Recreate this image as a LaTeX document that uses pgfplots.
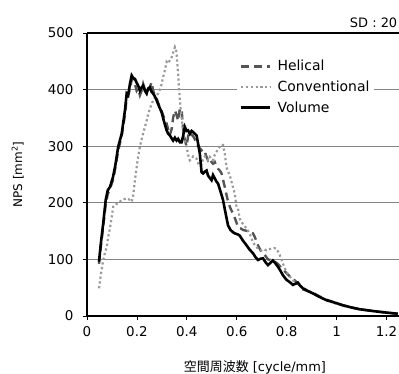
\documentclass[border=0pt]{standalone}
\usepackage{pgfplots}
\pgfplotsset{compat=1.18}
\usepackage{fontspec}
\setmainfont{DejaVu Sans}
\newfontfamily\cjk{Noto Sans CJK JP}
\definecolor{gridgray}{HTML}{858585}
\definecolor{helgray}{HTML}{555555}
\definecolor{convgray}{HTML}{9A9A9A}
\begin{document}
\begin{tikzpicture}
\path[use as bounding box] (-87bp,-58bp) rectangle (312bp,316bp);
\begin{axis}[
  scale only axis, width=312bp, height=283bp,
  xmin=0, xmax=1.25, ymin=0, ymax=500,
  axis lines=left, axis line style={-, black, line width=1.1bp},
  xtick={0,0.2,0.4,0.6,0.8,1,1.2},
  xticklabels={0,0.2,0.4,0.6,0.8,1,1.2},
  ytick={0,100,200,300,400},
  yticklabels={0,100,200,300,400},
  extra y ticks={500}, extra y tick labels={500},
  extra y tick style={grid style={black, line width=1.1bp}},
  ymajorgrids, grid style={gridgray, line width=1.1bp},
  tick align=outside, major tick length=4bp,
  tick style={black, line width=0.8bp},
  ticklabel style={font=\fontsize{13.5}{15}\selectfont},
  xticklabel style={yshift=-3bp},
  yticklabel style={xshift=-6bp},
  ylabel={NPS [mm$^{\mathrm{2}}$]},
  ylabel style={at={(axis description cs:-0.222,0.5)}, anchor=center, font=\fontsize{12}{14}\selectfont},
  xlabel={{\cjk 空間周波数} [cycle/mm]},
  xlabel style={at={(axis description cs:0.5,0)}, anchor=center, yshift=-51bp, xshift=12bp, font=\fontsize{13}{15}\selectfont},
  legend style={at={(axis description cs:0.48,0.918)}, anchor=north west, draw=none, fill=white,
    font=\fontsize{14}{16}\selectfont, row sep=4.5bp, inner xsep=3bp, inner ysep=2bp,
    /tikz/every odd column/.append style={column sep=4bp}},
  legend cell align=left,
  legend image code/.code={\draw[#1] (0bp,0bp) -- (29bp,0bp);},
  clip mode=individual,
]
\addplot[helgray, line width=2.4bp, dash pattern=on 8bp off 5bp] coordinates {
(0.048,92)(0.056,125)(0.065,158)(0.075,198)(0.083,215)(0.092,225)(0.104,240)(0.113,260)
(0.125,292)(0.139,318)(0.152,355)(0.159,385)(0.165,392)(0.172,400)(0.179,418)(0.186,416)
(0.192,410)(0.199,398)(0.205,402)(0.212,390)(0.219,398)(0.225,410)(0.232,400)(0.239,395)
(0.245,398)(0.252,405)(0.259,413)(0.265,398)(0.272,390)(0.279,384)(0.289,372)(0.299,362)
(0.309,350)(0.319,340)(0.325,330)(0.332,320)(0.339,330)(0.345,350)(0.352,363)(0.359,355)
(0.365,345)(0.372,366)(0.379,366)(0.385,330)(0.392,310)(0.399,300)(0.405,318)(0.412,325)
(0.419,320)(0.425,318)(0.432,312)(0.439,305)(0.445,300)(0.452,296)(0.459,293)(0.465,288)
(0.472,290)(0.479,281)(0.485,275)(0.492,278)(0.499,272)(0.505,269)(0.512,272)(0.518,265)
(0.525,260)(0.532,257)(0.539,252)(0.552,228)(0.565,202)(0.575,190)(0.585,181)(0.595,170)
(0.605,157)(0.615,155)(0.625,152)(0.645,150)(0.665,146)(0.672,140)(0.685,125)(0.699,113)
(0.712,108)(0.725,100)(0.745,98)(0.765,92)(0.785,82)(0.799,76)(0.812,70)(0.825,65)
(0.832,63)(0.845,58)(0.865,47)(0.885,44)(0.905,41)(0.93,35)(0.959,29)(0.99,24)
(1.025,19)(1.06,15)(1.092,12)(1.125,10)(1.159,8)(1.2,6)(1.245,4)
};
\addlegendentry{Helical}
\addplot[convgray, line width=2.2bp, dash pattern=on 2.2bp off 2.6bp] coordinates {
(0.048,49)(0.056,75)(0.065,99)(0.072,112)(0.079,122)(0.085,140)(0.092,155)(0.099,175)
(0.105,193)(0.112,197)(0.125,199)(0.139,205)(0.159,208)(0.172,205)(0.179,202)(0.185,213)
(0.192,240)(0.199,263)(0.205,282)(0.212,299)(0.222,318)(0.232,334)(0.239,345)(0.245,357)
(0.255,370)(0.265,381)(0.275,388)(0.285,393)(0.292,400)(0.299,410)(0.305,422)(0.312,434)
(0.319,449)(0.325,446)(0.332,452)(0.339,457)(0.345,465)(0.352,475)(0.358,468)(0.365,428)
(0.372,381)(0.379,350)(0.385,328)(0.392,310)(0.399,299)(0.405,285)(0.412,275)(0.419,278)
(0.425,282)(0.432,280)(0.439,278)(0.445,270)(0.452,265)(0.459,268)(0.465,278)(0.472,282)
(0.479,281)(0.485,275)(0.492,281)(0.505,275)(0.512,285)(0.519,290)(0.525,295)(0.532,299)
(0.539,303)(0.545,302)(0.552,287)(0.559,263)(0.565,255)(0.572,249)(0.582,232)(0.592,216)
(0.599,193)(0.605,190)(0.612,172)(0.619,166)(0.629,160)(0.639,155)(0.652,145)(0.665,130)
(0.675,124)(0.685,119)(0.699,116)(0.709,118)(0.719,116)(0.729,118)(0.739,119)(0.749,120)
(0.759,119)(0.765,114)(0.772,108)(0.779,100)(0.789,88)(0.799,78)(0.812,70)(0.825,63)
(0.845,56)(0.865,50)(0.885,45)(0.905,40)(0.93,34)(0.959,28)(0.99,23)(1.025,18)
(1.06,15)(1.092,12)(1.125,10)(1.159,8)(1.2,6)(1.245,4)
};
\addlegendentry{Conventional}
\addplot[black, line width=2.6bp] coordinates {
(0.048,96)(0.056,130)(0.065,164)(0.075,205)(0.083,222)(0.092,228)(0.104,245)(0.113,265)
(0.125,299)(0.139,322)(0.152,363)(0.159,393)(0.165,390)(0.172,410)(0.179,425)(0.186,420)
(0.192,419)(0.199,412)(0.205,407)(0.212,398)(0.219,404)(0.225,407)(0.232,398)(0.239,393)
(0.245,402)(0.252,404)(0.259,396)(0.265,393)(0.272,388)(0.279,381)(0.289,370)(0.299,360)
(0.309,343)(0.319,328)(0.325,322)(0.332,319)(0.339,314)(0.345,310)(0.352,315)(0.359,310)
(0.365,313)(0.372,307)(0.379,307)(0.385,318)(0.392,334)(0.399,327)(0.405,328)(0.412,322)
(0.419,327)(0.425,325)(0.432,322)(0.439,319)(0.445,305)(0.452,287)(0.459,254)(0.465,252)
(0.472,255)(0.479,257)(0.485,248)(0.492,244)(0.499,240)(0.505,249)(0.512,243)(0.518,238)
(0.525,234)(0.535,220)(0.545,205)(0.555,182)(0.565,160)(0.575,152)(0.585,148)(0.592,146)
(0.605,144)(0.612,142)(0.625,133)(0.639,125)(0.652,117)(0.665,111)(0.675,104)(0.685,99)
(0.695,101)(0.705,102)(0.715,95)(0.725,90)(0.735,94)(0.745,98)(0.755,93)(0.765,87)
(0.775,80)(0.785,72)(0.799,64)(0.812,60)(0.825,55)(0.835,57)(0.845,59)(0.855,53)
(0.865,49)(0.885,44)(0.905,40)(0.93,34)(0.959,28)(0.99,24)(1.025,19)(1.06,15)
(1.092,12)(1.125,10)(1.159,8)(1.2,6)(1.245,4)
};
\addlegendentry{Volume}
\node[anchor=south east, font=\fontsize{13}{15}\selectfont, inner sep=0pt] at (axis description cs:0.995,1) [yshift=5bp] {SD : 20};
\end{axis}
\end{tikzpicture}
\end{document}
